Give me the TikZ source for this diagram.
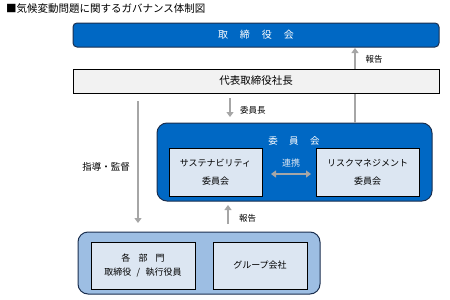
\documentclass[tikz,border=0pt]{standalone}
\usepackage{fontspec}
\setmainfont{Noto Sans CJK JP}
\usetikzlibrary{arrows.meta}
\definecolor{bblue}{HTML}{0068C4}
\definecolor{bdark}{HTML}{1B2F4F}
\definecolor{lblue}{HTML}{DCE6F2}
\definecolor{mblue}{HTML}{9DBEE3}
\definecolor{agray}{HTML}{A6A6A6}
\definecolor{pgray}{HTML}{F2F2F2}
\tikzset{
  bluebox/.style={draw=bdark, line width=1pt, fill=bblue, rounded corners=4pt},
  bigbox/.style={draw=bdark, line width=1pt, fill=bblue, rounded corners=10pt},
  botbox/.style={draw=bdark, line width=1pt, fill=mblue, rounded corners=10pt},
  inbox/.style={draw=black, line width=0.8pt, fill=lblue, align=center, font=\fontsize{9}{18}\selectfont},
  garrow/.style={draw=agray, line width=2pt, -{Triangle[length=5pt,width=7pt]}},
  garrow2/.style={draw=agray, line width=2pt, {Triangle[length=5pt,width=7pt]}-{Triangle[length=5pt,width=7pt]}},
  lbl/.style={font=\fontsize{8.5}{10}\selectfont, inner sep=0pt},
}
\begin{document}
\begin{tikzpicture}[x=1pt,y=-1pt]
\useasboundingbox (0,0) rectangle (450,300);
\node[lbl, anchor=west, font=\fontsize{10.5}{12}\selectfont] (title) at (6,9) {■気候変動問題に関するガバナンス体制図};
% boxes
\draw[bluebox] (73,23) rectangle (439,47);
\node[text=white, font=\fontsize{10}{12}\selectfont] (tori) at (256,35) {取\hspace{1.2em}締\hspace{1.2em}役\hspace{1.2em}会};
\coordinate (toriB) at (355,48);
% 委員会
\draw[bigbox] (157,123) rectangle (432,201);
\coordinate (iinT) at (355,123);
\coordinate (iinB) at (228,201);
\node[text=white, font=\fontsize{9.5}{12}\selectfont] (iinl) at (294,141) {委\hspace{1.2em}員\hspace{1.2em}会};
\node[inbox, minimum width=93pt, minimum height=48pt] (sus) at (215.5,172) {サステナビリティ\\委員会};
\node[inbox, minimum width=103pt, minimum height=48pt] (risk) at (367.5,172) {リスクマネジメント\\委員会};
\coordinate (dl) at (271,174);
\coordinate (dr) at (311,174);
\draw[garrow2] (dl) -- (dr);
\node[lbl, text=lblue, font=\fontsize{9}{10}\selectfont] (renkei) at (291,163) {連携};
% upward report arrow (drawn before president box)
\draw[garrow] (iinT) -- (toriB);
\node[lbl] (hok1) at (374,59) {報告};
% president box
\node[draw=black, line width=0.8pt, fill=pgray, minimum width=366pt, minimum height=24pt, font=\fontsize{10.5}{12}\selectfont] (pres) at (256,81) {代表取締役社長};
% 委員長 arrow
\coordinate (p1) at (230,98);
\coordinate (p2) at (230,117);
\draw[garrow] (p1) -- (p2);
\node[lbl, anchor=west] (iincho) at (240,110) {委員長};
% left arrow
\coordinate (l1) at (138,101);
\coordinate (l2) at (138,223);
\draw[garrow] (l1) -- (l2);
\node[lbl, font=\fontsize{9.5}{10}\selectfont] (shido) at (106,167) {指導・監督};
% bottom
\draw[botbox] (78,232) rectangle (320,294);
\node[inbox, minimum width=104pt, minimum height=47pt, font=\fontsize{9}{14}\selectfont] (bumon) at (143,265.5) {各\hspace{0.9em}部\hspace{0.9em}門\\取締役\hspace{0.6em}/\hspace{0.6em}執行役員};
\node[inbox, minimum width=94pt, minimum height=47pt] (group) at (260,265.5) {グループ会社};
\coordinate (b1) at (228,224);
\coordinate (b2) at (228,205);
\draw[garrow] (b1) -- (b2);
\node[lbl, anchor=west] (hok2) at (239,218) {報告};
\end{tikzpicture}
\end{document}
